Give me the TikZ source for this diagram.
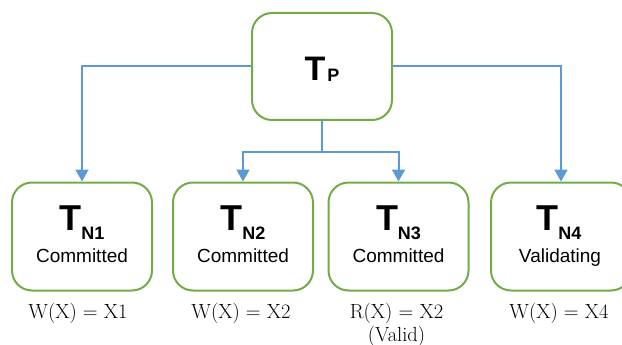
\documentclass[tikz,border=0pt]{standalone}
\usepackage{fontspec}
\newfontfamily\sansf{Liberation Sans}
\usetikzlibrary{arrows.meta}
\definecolor{boxgreen}{HTML}{70AD47}
\definecolor{linkblue}{HTML}{5B9BD5}
\tikzset{
  txbox/.style={draw=boxgreen, line width=2pt, rounded corners=20pt,
    minimum width=140pt, minimum height=108pt, inner sep=0pt},
  link/.style={draw=linkblue, line width=2pt},
  arrowlink/.style={link, -{Triangle[width=13pt,length=12pt]}},
  bigT/.style={anchor=base, inner sep=0pt, font=\sansf\bfseries\fontsize{36}{36}\selectfont},
  stateTxt/.style={anchor=base, inner sep=0pt, font=\sansf\fontsize{19}{20}\selectfont},
  opTxt/.style={anchor=base, inner sep=0pt, font=\fontsize{20.5}{24}\selectfont}
}
\newcommand{\subscr}[2]{\raisebox{#1}{\fontsize{18}{18}\selectfont #2}}
\begin{document}
\begin{tikzpicture}[x=1pt,y=-1pt]
\useasboundingbox (0,0) rectangle (622,345);

% parent transaction
\node[txbox, minimum height=107pt] (tp) at (322,66.5) {};
\node[bigT, font=\sansf\bfseries\fontsize{34}{34}\selectfont] (tpt) at ([yshift=-14.5pt]tp.center)
  {T\kern2pt\raisebox{-1pt}{\fontsize{18}{18}\selectfont P}};

% nested transactions
\node[txbox] (n1) at (82,236.5) {};
\node[txbox] (n2) at (243,236.5) {};
\node[txbox] (n3) at (398.5,236.5) {};
\node[txbox] (n4) at (561,236.5) {};

\node[bigT] (n1t) at ([yshift=6.5pt]n1.center) {T\subscr{-9pt}{N1}};
\node[bigT] (n2t) at ([yshift=6.5pt]n2.center) {T\subscr{-9pt}{N2}};
\node[bigT] (n3t) at ([yshift=6.5pt]n3.center) {T\subscr{-9pt}{N3}};
\node[bigT] (n4t) at ([yshift=6.5pt,xshift=-2pt]n4.center) {T\subscr{-9pt}{N4}};

\node[stateTxt] (n1s) at ([yshift=-25.5pt]n1.center) {Committed};
\node[stateTxt] (n2s) at ([yshift=-25.5pt]n2.center) {Committed};
\node[stateTxt] (n3s) at ([yshift=-25.5pt]n3.center) {Committed};
\node[stateTxt] (n4s) at ([yshift=-25.5pt,xshift=-1pt]n4.center) {Validating};

% operations below each transaction
\node[opTxt] (n1o) at ([yshift=-27pt,xshift=-4pt]n1.south) {W(X) = X1};
\node[opTxt] (n2o) at ([yshift=-27pt,xshift=-2pt]n2.south) {W(X) = X2};
\node[opTxt] (n3o) at ([yshift=-27pt,xshift=-2pt]n3.south) {R(X) = X2};
\node[opTxt] (n3v) at ([yshift=-49.5pt,xshift=-2pt]n3.south) {(Valid)};
\node[opTxt] (n4o) at ([yshift=-27pt,xshift=-2pt]n4.south) {W(X) = X4};

% connectors
\coordinate (fork) at ([yshift=-31pt]tp.south);
\draw[arrowlink] (tp.west) -| (n1.north);
\draw[arrowlink] (tp.east) -| (n4.north);
\draw[link] (tp.south) -- (fork);
\draw[arrowlink] (fork) -| (n2.north);
\draw[arrowlink] (fork) -| (n3.north);
\end{tikzpicture}
\end{document}
